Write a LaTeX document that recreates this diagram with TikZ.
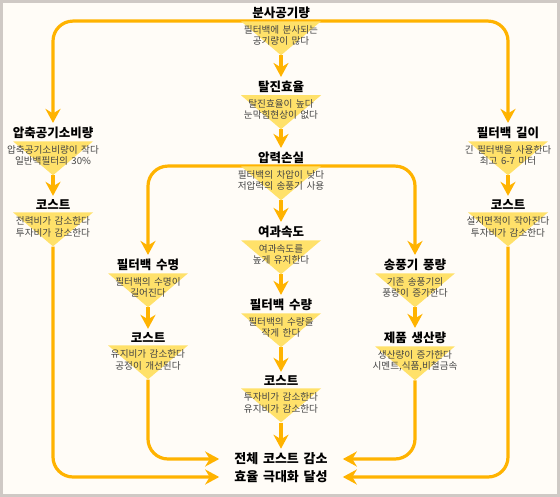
\documentclass[tikz,border=0pt]{standalone}
\usepackage{fontspec}
\setmainfont{Noto Sans CJK KR}[WordSpace={1.6,0,0}]
\usetikzlibrary{positioning,arrows.meta,backgrounds}
\definecolor{paper}{HTML}{FFFCF7}
\definecolor{rim}{HTML}{CFC9C5}
\definecolor{flow}{HTML}{FFB300}
\definecolor{triyel}{HTML}{FFE16A}
\definecolor{subgray}{HTML}{444444}

\begin{document}
\begin{tikzpicture}[
  x=1pt, y=-1pt,
  ttl/.style  = {inner sep=1pt, font=\bfseries\fontsize{12.5}{14}\selectfont},
  tri/.style  = {rectangle, below=1pt of #1, minimum width=80pt,
                 minimum height=34pt, inner sep=0pt,
                 path picture={\fill[triyel]
                   (path picture bounding box.north west)
                   -- (path picture bounding box.north east)
                   -- (path picture bounding box.south) -- cycle;}},
  sub/.style  = {inner sep=0pt, yshift=2.5pt, align=center, text=subgray,
                 font=\fontsize{9.6}{11.2}\selectfont},
  goal/.style = {inner xsep=12pt, inner ysep=1pt,
                 font=\bfseries\fontsize{13}{15}\selectfont},
  arr/.style  = {-{Stealth[length=14pt,width=15pt,inset=4.5pt]}, flow,
                 line width=3.2pt, shorten >=3pt, rounded corners=20pt},
]
\useasboundingbox (0,0) rectangle (560,497);
\begin{pgfonlayer}{background}
  \fill[paper] (0,0) rectangle (560,497);
  \draw[rim, line width=3pt] (1.5,1.5) rectangle (558.5,495.5);
\end{pgfonlayer}

% center column
\node[ttl] (bunsa) at (281,13) {분사공기량};
\node[tri=bunsa] (bunsa-t) {};
\node[sub] at (bunsa-t) {필터백에 분사되는\\공기량이 많다};
\node[ttl] (taljin) at (281,87) {탈진효율};
\node[tri=taljin] (taljin-t) {};
\node[sub] at (taljin-t) {탈진효율이 높다\\눈막힘현상이 없다};
\node[ttl] (apryeok) at (281,158) {압력손실};
\node[tri=apryeok] (apryeok-t) {};
\node[sub] at (apryeok-t) {필터백의 차압이 낮다\\저압력의 송풍기 사용};
\node[ttl] (yeogwa) at (281,232) {여과속도};
\node[tri=yeogwa] (yeogwa-t) {};
\node[sub] at (yeogwa-t) {여과속도를\\높게 유지한다};
\node[ttl] (suryang) at (281,305) {필터백 수량};
\node[tri=suryang] (suryang-t) {};
\node[sub] at (suryang-t) {필터백의 수량을\\작게 한다};
\node[ttl] (costC) at (281,381) {코스트};
\node[tri=costC] (costC-t) {};
\node[sub] at (costC-t) {투자비가 감소한다\\유지비가 감소한다};

% outer left and right columns
\node[ttl] (apchuk) at (53,133) {압축공기소비량};
\node[tri=apchuk] (apchuk-t) {};
\node[sub] at (apchuk-t) {압축공기소비량이 작다\\일반백필터의 30\%};
\node[ttl] (costL) at (53,205) {코스트};
\node[tri=costL] (costL-t) {};
\node[sub] at (costL-t) {전력비가 감소한다\\투자비가 감소한다};
\node[ttl] (gil) at (508,133) {필터백 길이};
\node[tri=gil] (gil-t) {};
\node[sub] at (gil-t) {긴 필터백을 사용한다\\최고 6-7 미터};
\node[ttl] (costR) at (508,205) {코스트};
\node[tri=costR] (costR-t) {};
\node[sub] at (costR-t) {설치면적이 작아진다\\투자비가 감소한다};

% inner left and right columns
\node[ttl] (sumyeong) at (148,265) {필터백 수명};
\node[tri=sumyeong] (sumyeong-t) {};
\node[sub] at (sumyeong-t) {필터백의 수명이\\길어진다};
\node[ttl] (costM) at (148,338) {코스트};
\node[tri=costM] (costM-t) {};
\node[sub] at (costM-t) {유지비가 감소한다\\공정이 개선된다};
\node[ttl] (pung) at (415,265) {송풍기 풍량};
\node[tri=pung] (pung-t) {};
\node[sub] at (pung-t) {기존 송풍기의\\풍량이 증가한다};
\node[ttl] (saengsan) at (415,338) {제품 생산량};
\node[tri=saengsan] (saengsan-t) {};
\node[sub] at (saengsan-t) {생산량이 증가한다\\시멘트,식품,비철금속};

\node[goal] (goal1) at (281,459) {전체 코스트 감소};
\node[goal] (goal2) at (281,477) {효율 극대화 달성};

\begin{pgfonlayer}{background}
\draw[arr] (bunsa-t.south) -- (taljin);
\draw[arr] (taljin-t.south) -- (apryeok);
\draw[arr] (apryeok-t.south) -- (yeogwa);
\draw[arr] (yeogwa-t.south) -- (suryang);
\draw[arr] (suryang-t.south) -- (costC);
\draw[arr] (costC-t.south) -- (goal1);
\draw[arr] (bunsa-t.north) -| (apchuk);
\draw[arr] (bunsa-t.north) -| (gil);
\draw[arr] (apchuk-t.south) -- (costL);
\draw[arr] (gil-t.south) -- (costR);
\draw[arr] (apryeok-t.north) -| (sumyeong);
\draw[arr] (apryeok-t.north) -| (pung);
\draw[arr] (sumyeong-t.south) -- (costM);
\draw[arr] (pung-t.south) -- (saengsan);
\draw[arr] (costL-t.south) |- (goal2);
\draw[arr] (costM-t.south) |- (goal1);
\draw[arr] (saengsan-t.south) |- (goal1);
\draw[arr] (costR-t.south) |- (goal2);
\end{pgfonlayer}
\end{tikzpicture}
\end{document}
